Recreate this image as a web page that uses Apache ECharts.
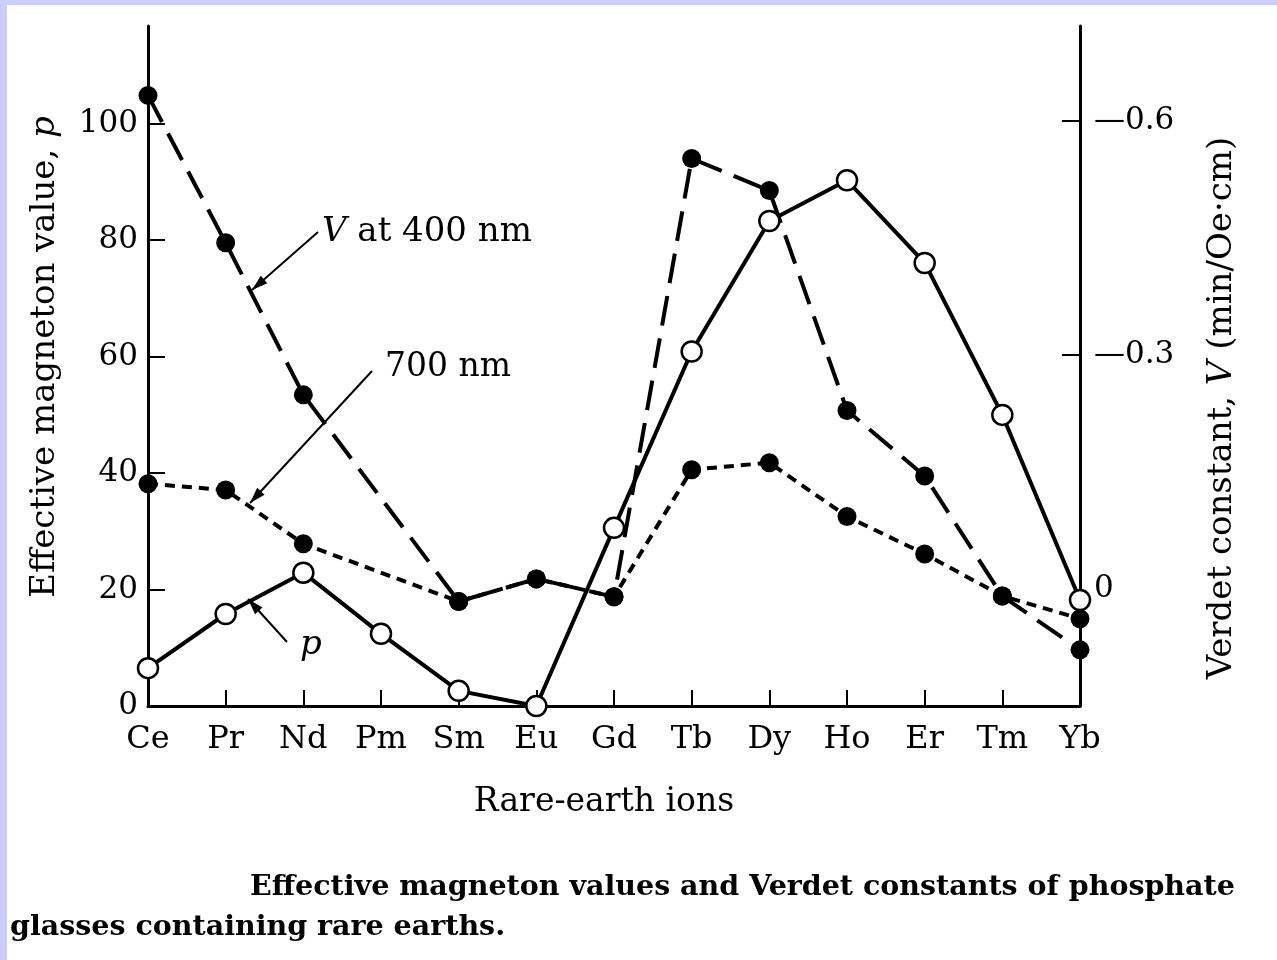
<!DOCTYPE html>
<html>
<head>
<meta charset="utf-8">
<script src="https://cdn.jsdelivr.net/npm/echarts@6/dist/echarts.min.js"></script>
<style>
  html, body { margin: 0; padding: 0; background: #fff; }
  #chart { width: 1277px; height: 960px; }
</style>
</head>
<body>
<div id="chart"></div>
<script>
// rare-earth ions on the x axis
const ions = ['Ce', 'Pr', 'Nd', 'Pm', 'Sm', 'Eu', 'Gd', 'Tb', 'Dy', 'Ho', 'Er', 'Tm', 'Yb']
// effective magneton value p (left axis)
const magneton = [6.5, 15.8, 22.9, 12.4, 2.6, 0, 30.6, 60.9, 83.3, 90.3, 76.1, 50.0, 18.2]
// Verdet constant V (right axis), no point for Pm
const verdet400 = [0.633, 0.444, 0.249, null, -0.016, 0.013, -0.010, 0.552, 0.511, 0.229, 0.145, -0.009, -0.078]
const verdet700 = [0.135, 0.127, 0.058, null, -0.016, 0.013, -0.010, 0.153, 0.162, 0.093, 0.045, -0.009, -0.038]
// tick marks and tick labels
const pTicks = [20, 40, 60, 80, 100]
const pLabels = [0, 20, 40, 60, 80, 100]
const vTicks = [0.3, 0.6]
const vLabels = [0, 0.3, 0.6]

const serif = 'DejaVu Serif'
const ink = '#000'

// small arrow for the hand-drawn annotations
function arrow(x1, y1, x2, y2) {
  const a = Math.atan2(y2 - y1, x2 - x1)
  const len = 16, half = 5
  const bx = x2 - len * Math.cos(a), by = y2 - len * Math.sin(a)
  return [
    { type: 'line', shape: { x1: x1, y1: y1, x2: x2, y2: y2 }, style: { stroke: ink, lineWidth: 2 } },
    {
      type: 'polygon',
      shape: { points: [[x2, y2], [bx + half * Math.sin(a), by - half * Math.cos(a)], [bx - half * Math.sin(a), by + half * Math.cos(a)]] },
      style: { fill: ink }
    }
  ]
}

const chart = echarts.init(document.getElementById('chart'))

const option = {
  backgroundColor: '#fff',
  animation: false,
  grid: { left: 148, right: 197, top: 26, bottom: 254 },
  xAxis: {
    type: 'category',
    data: ions,
    boundaryGap: false,
    name: 'Rare-earth ions',
    nameLocation: 'middle',
    nameGap: 80,
    nameTextStyle: { fontFamily: serif, fontSize: 33, color: ink, padding: [0, 20, 0, 0] },
    axisLine: { onZero: false, lineStyle: { color: ink, width: 3 } },
    axisTick: { inside: true, length: 16, lineStyle: { color: ink, width: 2 } },
    axisLabel: { margin: 18, fontFamily: serif, fontSize: 32, color: ink },
    splitLine: { show: false }
  },
  yAxis: [
    {
      type: 'value',
      position: 'left',
      min: 0,
      max: 116.8,
      axisLine: { show: true, onZero: false, lineStyle: { color: ink, width: 3 } },
      axisTick: { show: true, inside: true, length: 17, customValues: pTicks, lineStyle: { color: ink, width: 2 } },
      axisLabel: { margin: 10, customValues: pLabels, fontFamily: serif, fontSize: 31, color: ink },
      splitLine: { show: false }
    },
    {
      type: 'value',
      position: 'right',
      min: -0.15,
      max: 0.722,
      axisLine: { show: true, onZero: false, lineStyle: { color: ink, width: 3 } },
      axisTick: { show: true, inside: true, length: 18, customValues: vTicks, lineStyle: { color: ink, width: 2 } },
      axisLabel: {
        margin: 14,
        customValues: vLabels,
        fontFamily: serif,
        fontSize: 31,
        color: ink,
        formatter: v => (v === 0 ? '0' : '\u2014' + v)
      },
      splitLine: { show: false }
    }
  ],
  series: [
    {
      name: 'V at 400 nm',
      type: 'line',
      yAxisIndex: 1,
      data: verdet400,
      connectNulls: true,
      symbol: 'circle',
      symbolSize: 19,
      lineStyle: { color: ink, width: 4, type: [30, 13] },
      itemStyle: { color: ink }
    },
    {
      name: 'V at 700 nm',
      type: 'line',
      yAxisIndex: 1,
      data: verdet700,
      connectNulls: true,
      symbol: 'circle',
      symbolSize: 19,
      lineStyle: { color: ink, width: 4, type: [10, 7] },
      itemStyle: { color: ink }
    },
    {
      name: 'p',
      type: 'line',
      yAxisIndex: 0,
      data: magneton,
      symbol: 'circle',
      symbolSize: 20,
      lineStyle: { color: ink, width: 4 },
      itemStyle: { color: '#fff', borderColor: ink, borderWidth: 2.5 },
      z: 5
    }
  ],
  graphic: [
    // lavender frame of the scan
    { type: 'rect', shape: { x: 0, y: 0, width: 1277, height: 5 }, style: { fill: '#ccccff' } },
    { type: 'rect', shape: { x: 0, y: 0, width: 7, height: 960 }, style: { fill: '#ccccff' } },
    // y axis titles
    {
      type: 'text', x: 45, y: 357, rotation: Math.PI / 2,
      style: {
        text: 'Effective magneton value, {i|p}', fontFamily: serif, fontSize: 34, fill: ink,
        align: 'center', verticalAlign: 'middle',
        rich: { i: { fontFamily: serif, fontSize: 34, fontStyle: 'italic', fill: ink } }
      }
    },
    {
      type: 'text', x: 1222, y: 408, rotation: Math.PI / 2,
      style: {
        text: 'Verdet constant, {i|V} (min/Oe\u00b7cm)', fontFamily: serif, fontSize: 34, fill: ink,
        align: 'center', verticalAlign: 'middle',
        rich: { i: { fontFamily: serif, fontSize: 34, fontStyle: 'italic', fill: ink } }
      }
    },
    // annotations
    {
      type: 'text', x: 322, y: 232,
      style: {
        text: '{i|V} at 400 nm', fontFamily: serif, fontSize: 34, fill: ink, verticalAlign: 'middle',
        rich: { i: { fontFamily: serif, fontSize: 34, fontStyle: 'italic', fill: ink } }
      }
    },
    ...arrow(318, 232, 252, 290),
    { type: 'text', x: 385, y: 367, style: { text: '700 nm', fontFamily: serif, fontSize: 33, fill: ink, verticalAlign: 'middle' } },
    ...arrow(372, 371, 250, 503),
    { type: 'text', x: 300, y: 645, style: { text: 'p', fontFamily: serif, fontSize: 34, fontStyle: 'italic', fill: ink, verticalAlign: 'middle' } },
    ...arrow(287, 642, 248, 599),
    // caption
    {
      type: 'text', x: 250, y: 888,
      style: { text: 'Effective magneton values and Verdet constants of phosphate', fontFamily: serif, fontWeight: 'bold', fontSize: 28.5, fill: ink, verticalAlign: 'middle' }
    },
    {
      type: 'text', x: 10, y: 928,
      style: { text: 'glasses containing rare earths.', fontFamily: serif, fontWeight: 'bold', fontSize: 28.5, fill: ink, verticalAlign: 'middle' }
    }
  ]
}

chart.setOption(option)
</script>
</body>
</html>
